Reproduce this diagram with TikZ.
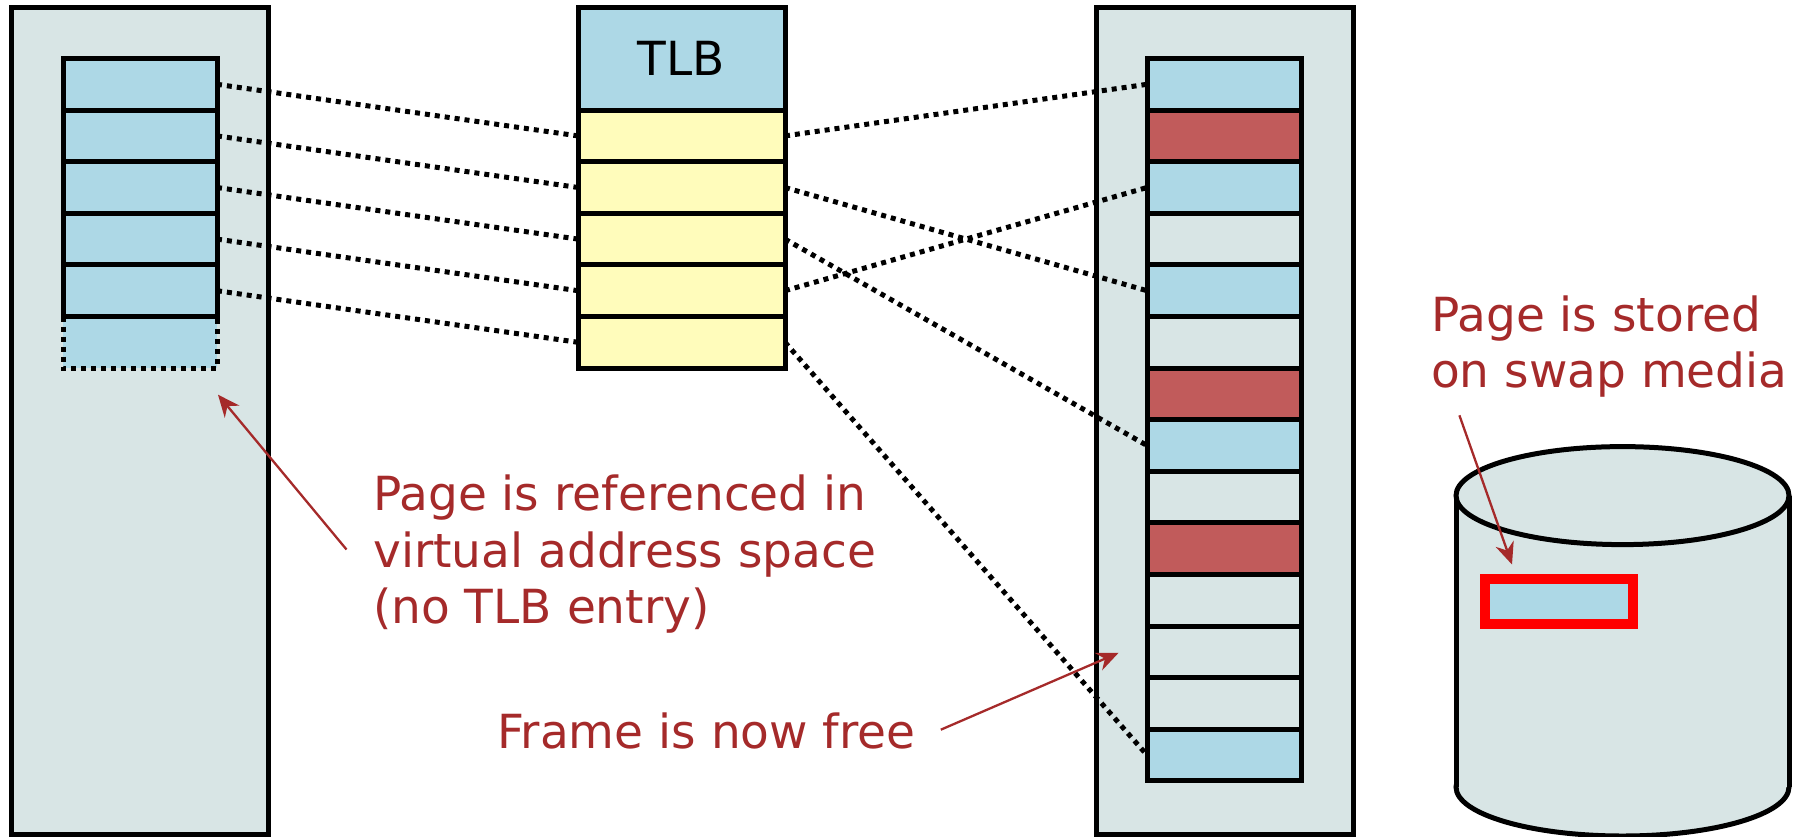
\documentclass[tikz,border=0pt]{standalone}
\usepackage{fontspec}
\setmainfont{DejaVu Sans}
\usetikzlibrary{arrows.meta}
\definecolor{bg}{HTML}{D8E5E5}
\definecolor{pgblue}{HTML}{ADD8E6}
\definecolor{tlbyellow}{HTML}{FFFCBB}
\definecolor{pgred}{HTML}{C15B5B}
\definecolor{note}{HTML}{A52A2A}
\begin{document}
\begin{tikzpicture}[x=1pt,y=-1pt,
  container/.style={draw=black, fill=bg, line width=5pt, inner sep=0pt, outer sep=0pt},
  cell/.style={draw=black, line width=5pt, minimum height=51.6pt, inner sep=0pt, outer sep=0pt},
  vcell/.style={cell, fill=pgblue, minimum width=154pt},
  tcell/.style={cell, fill=tlbyellow, minimum width=207pt},
  fcell/.style={cell, minimum width=154pt},
  link/.style={draw=black, line width=5pt, dash pattern=on 5pt off 5pt},
  notetext/.style={text=note, font=\fontsize{47}{56}\selectfont, anchor=base west, inner sep=0pt},
  callout/.style={draw=note, line width=2.3pt, -{Stealth[length=22pt,width=19pt]}}
]
\useasboundingbox (0,0) rectangle (1799,836);

% containers
\node[container, minimum width=257pt, minimum height=827pt] (VC) at (140,420.5) {};
\node[container, minimum width=257pt, minimum height=827pt] (PC) at (1224.5,420.5) {};

% virtual pages
\node[cell, draw=none, fill=pgblue, minimum width=154pt] (L6) at (140,{58.5+5.5*51.6}) {};
\draw[link] (L6.north west) -- (L6.south west) -- (L6.south east) -- (L6.north east);
\foreach \i in {1,...,5}
  \node[vcell] (L\i) at (140,{58.5+(\i-0.5)*51.6}) {};

% TLB
\node[cell, fill=pgblue, minimum width=207pt, minimum height=103pt, font=\fontsize{47}{56}\selectfont] (T0) at (681.5,58.5) {TLB};
\foreach \i in {1,...,5}
  \node[tcell] (T\i) at (681.5,{110.1+(\i-0.5)*51.6}) {};

% physical frames
\foreach \i/\c in {1/pgblue,2/pgred,3/pgblue,4/bg,5/pgblue,6/bg,7/pgred,8/pgblue,9/bg,10/pgred,11/bg,12/bg,13/bg,14/pgblue}
  \node[fcell, fill=\c] (R\i) at (1224,{58.5+(\i-0.5)*51.6}) {};

% dotted mappings
\foreach \i in {1,...,5}
  \draw[link] (L\i.east) -- (T\i.west);
\draw[link] (T1.east) -- (R1.west);
\draw[link] (T2.east) -- (R5.west);
\draw[link] (T3.east) -- (R8.west);
\draw[link] (T4.east) -- (R3.west);
\draw[link] (T5.east) -- (R14.west);

% swap cylinder
\draw[line width=5pt, fill=bg] (1622.5,787) ellipse [x radius=166.5, y radius=49];
\fill[bg] (1456,495.6) rectangle (1789,787);
\draw[line width=5pt] (1456,495.6) -- (1456,787) (1789,495.6) -- (1789,787);
\draw[line width=5pt, fill=bg] (1622.5,495.6) ellipse [x radius=166.5, y radius=49];
\node[draw=red, line width=10pt, fill=pgblue, minimum width=148pt, minimum height=45pt, inner sep=0pt, outer sep=0pt] (S) at (1559,601.5) {};

% notes
\node[notetext] (N1a) at (373,510.5) {Page is referenced in};
\node[notetext] (N1b) at (373,567) {virtual address space};
\node[notetext] (N1c) at (373,623.5) {(no TLB entry)};
\node[notetext] (N2) at (497,748) {Frame is now free};
\node[notetext] (N3a) at (1431,331.5) {Page is stored};
\node[notetext] (N3b) at (1431,387) {on swap media};

\coordinate (a1s) at (346.5,549.5);
\coordinate (a1e) at (218,394.7);
\coordinate (a2s) at (940.8,729.7);
\coordinate (a2e) at (1118.6,652.8);
\coordinate (a3s) at (1459.4,415.3);
\coordinate (a3e) at (1512,564.5);
\draw[callout] (a1s) -- (a1e);
\draw[callout] (a2s) -- (a2e);
\draw[callout] (a3s) -- (a3e);
\end{tikzpicture}
\end{document}
